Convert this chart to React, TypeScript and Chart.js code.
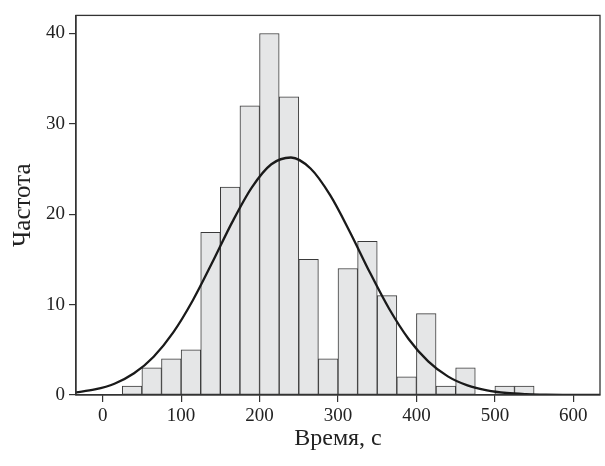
import React, { useEffect, useRef } from "react";
import { Chart, registerables } from "chart.js";

Chart.register(...registerables);

// Histogram bins (width 25 s), centres and counts
const binCenters = [37.5, 62.5, 87.5, 112.5, 137.5, 162.5, 187.5, 212.5, 237.5, 262.5, 287.5, 312.5, 337.5, 362.5, 387.5, 412.5, 437.5, 462.5, 487.5, 512.5, 537.5];
const binCounts = [1, 3, 4, 5, 18, 23, 32, 40, 33, 15, 4, 14, 17, 11, 2, 9, 1, 3, 0, 1, 1];

// Fitted normal curve
const curveX = [-35, -10, 15, 40, 65, 90, 115, 140, 165, 190, 215, 240, 265, 290, 315, 340, 365, 390, 415, 440, 465, 490, 515, 540, 565, 590, 640];
const curveY = [0.27, 0.61, 1.25, 2.4, 4.24, 6.93, 10.49, 14.71, 19.1, 22.95, 25.53, 26.28, 25.06, 22.11, 18.07, 13.67, 9.57, 6.2, 3.72, 2.06, 1.06, 0.51, 0.22, 0.09, 0.03, 0.01, 0];

const xTicks = [0, 100, 200, 300, 400, 500, 600];
const yTicks = [0, 10, 20, 30, 40];

const xTitle = "Время, с";
const yTitle = "Частота";

const FONT = "'Liberation Serif', 'Times New Roman', serif";

const boxPlugin = {
  id: "boxPlugin",
  afterDatasetsDraw(chart: any) {
    const { ctx, chartArea } = chart;
    ctx.save();
    ctx.strokeStyle = "#333";
    ctx.lineWidth = 1.3;
    ctx.strokeRect(chartArea.left, chartArea.top, chartArea.right - chartArea.left, chartArea.bottom - chartArea.top);
    ctx.restore();
  },
};

export default function App() {
  const ref = useRef<HTMLCanvasElement>(null);
  useEffect(() => {
    document.body.style.margin = "0";
    const chart = new Chart(ref.current!, {
      type: "bar",
      data: {
        datasets: [
          {
            type: "line",
            data: curveX.map((x, i) => ({ x, y: curveY[i] })),
            borderColor: "#1a1a1a",
            borderWidth: 2.3,
            pointRadius: 0,
            cubicInterpolationMode: "monotone",
            fill: false,
            order: 0,
          } as any,
          {
            type: "bar",
            data: binCenters.map((x, i) => ({ x, y: binCounts[i] })),
            backgroundColor: "#e5e6e7",
            borderColor: "#3a3a3a",
            borderWidth: 1,
            borderSkipped: false,
            barPercentage: 1,
            categoryPercentage: 1,
            grouped: false,
            order: 1,
          } as any,
        ],
      },
      options: {
        animation: false,
        responsive: false,
        layout: { padding: { left: 0, top: 9, right: 5, bottom: 0 } },
        plugins: { legend: { display: false }, tooltip: { enabled: false } },
        scales: {
          x: {
            type: "linear",
            offset: false,
            min: -34,
            max: 634,
            afterBuildTicks: (s: any) => {
              s.ticks = xTicks.map((v) => ({ value: v }));
            },
            afterFit: (s: any) => {
              s.height = 71;
            },
            grid: { display: true, offset: false, drawOnChartArea: false, drawTicks: true, tickLength: 7, color: "#333", lineWidth: 1.2 },
            border: { display: true, color: "#333", width: 1.3 },
            ticks: { color: "#222", font: { family: FONT, size: 19 }, padding: 3, maxRotation: 0, autoSkip: false },
            title: { display: true, text: xTitle, color: "#222", font: { family: FONT, size: 24 }, padding: { top: 0, bottom: 13 } },
          },
          y: {
            type: "linear",
            min: 0,
            max: 42,
            afterBuildTicks: (s: any) => {
              s.ticks = yTicks.map((v) => ({ value: v }));
            },
            afterFit: (s: any) => {
              s.width = 76;
            },
            grid: { display: true, drawOnChartArea: false, drawTicks: true, tickLength: 7, color: "#333", lineWidth: 1.2 },
            border: { display: true, color: "#333", width: 1.3 },
            ticks: { color: "#222", font: { family: FONT, size: 19 }, padding: 4, autoSkip: false },
            title: { display: true, text: yTitle, color: "#222", font: { family: FONT, size: 25 }, padding: { top: 8, bottom: 0 } },
          },
        },
      },
      plugins: [boxPlugin],
    } as any);
    return () => chart.destroy();
  }, []);
  return (
    <div style={{ width: 605, height: 466 }}>
      <canvas ref={ref} width={605} height={466} />
    </div>
  );
}
